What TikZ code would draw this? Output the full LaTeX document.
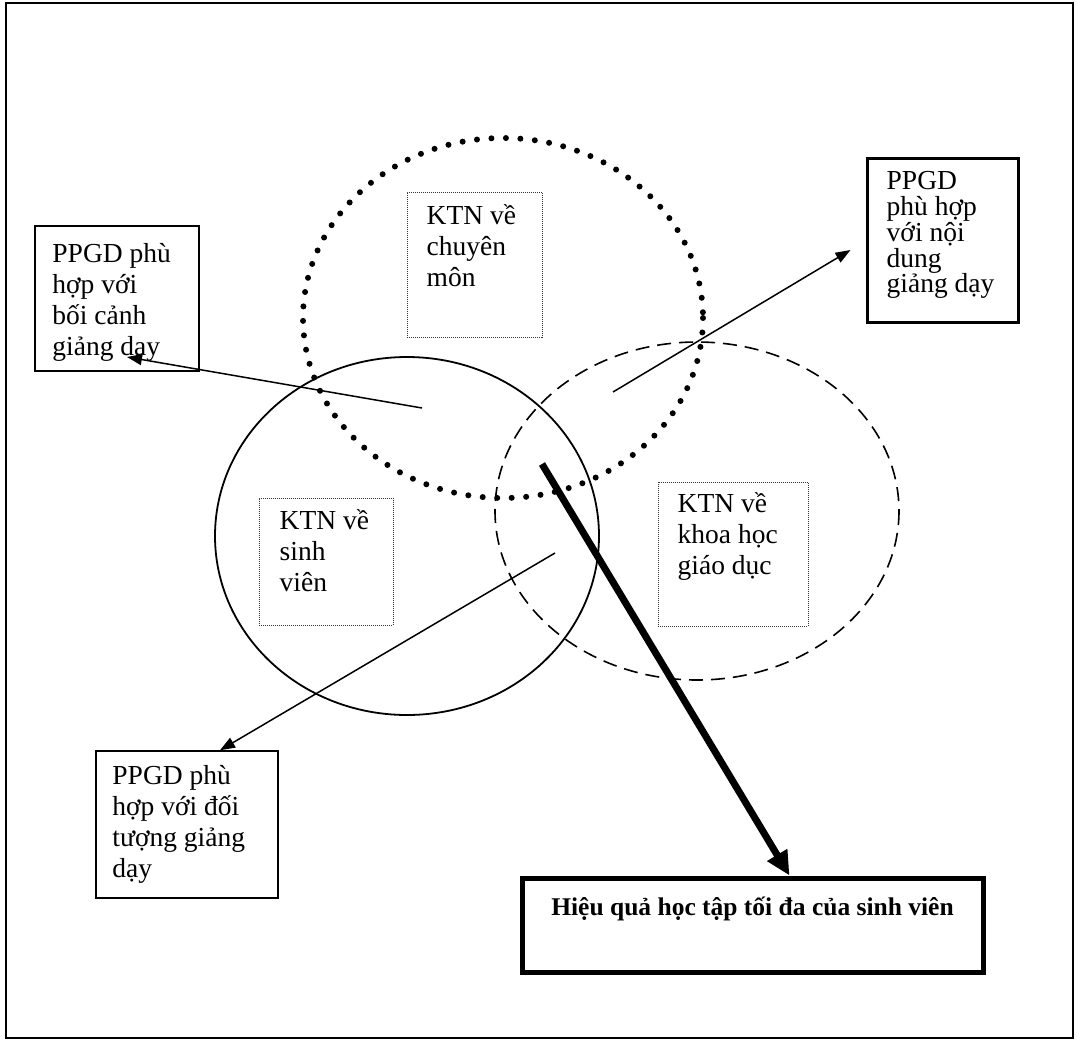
\documentclass[tikz,border=0pt]{standalone}
\usepackage{fontspec}
\setmainfont{Liberation Serif}
\usetikzlibrary{positioning,arrows.meta}

\tikzset{
  kbox/.style={draw=black!80, densely dotted, line width=1pt, inner sep=0pt},
  pbox/.style={draw, line width=1.5pt, inner sep=0pt},
  ktxt/.style={inner sep=0pt, align=left, font=\fontsize{27.5}{31}\selectfont},
  thinarrow/.style={line width=1.5pt, -{Triangle[length=15pt,width=11pt]}},
}

\begin{document}
\begin{tikzpicture}[x=1pt,y=-1pt]
        \useasboundingbox (0,0) rectangle (1077,1042);
        % Draw the outer frame
        \draw[line width=1.5pt] (6,3) rectangle (1073,1038);

        % Draw the three knowledge circles
        \draw[line width=6pt, line cap=round, dash pattern=on 0pt off 14.5pt] (503,318) ellipse [x radius=200, y radius=180];
        \draw[line width=1.8pt] (407,536) ellipse [x radius=192, y radius=179];
        \draw[line width=1.6pt, dash pattern=on 14pt off 8pt] (697,511) ellipse [x radius=202, y radius=169];

        % Draw the knowledge boxes inside the circles
        \node[kbox, minimum width=135pt, minimum height=145pt] (cm) at (474.5,264.5) {};
        \node[ktxt, below right=13pt and 20pt of cm.north west] (cmtxt) {KTN về\\chuyên\\môn};
        \node[kbox, minimum width=134pt, minimum height=127pt] (sv) at (326,561.5) {};
        \node[ktxt, below right=12pt and 21pt of sv.north west] (svtxt) {KTN về\\sinh\\viên};
        \node[kbox, minimum width=150pt, minimum height=144pt] (kh) at (733,554) {};
        \node[ktxt, below right=11pt and 20pt of kh.north west] (khtxt) {KTN về\\khoa học\\giáo dục};

        % Draw the method boxes
        \node[pbox, minimum width=164pt, minimum height=145pt] (ctx) at (117,298.5) {};
        \node[ktxt, below right=18pt and 18pt of ctx.north west] (ctxtxt) {PPGD phù\\hợp với\\bối cảnh\\giảng dạy};
        \node[pbox, line width=3pt, minimum width=151pt, minimum height=164pt] (nd) at (942.5,240) {};
        \node[ktxt, font=\fontsize{27.5}{25.7}\selectfont, below right=15pt and 21pt of nd.north west] (ndtxt) {PPGD\\phù hợp\\với nội\\dung\\giảng dạy};
        \node[pbox, minimum width=182pt, minimum height=147pt] (dt) at (187,824.5) {};
        \node[ktxt, below right=15pt and 17pt of dt.north west] (dttxt) {PPGD phù\\hợp với đối\\tượng giảng\\dạy};

        % Draw the result box
        \node[pbox, line width=5pt, minimum width=461pt, minimum height=94pt] (res) at (752.5,925) {};
        \node[inner sep=0pt, font=\fontsize{25.5}{30}\selectfont\bfseries, below=21pt of res.north] (restxt) {Hiệu quả học tập tối đa của sinh viên};

        % Draw the arrows from the circles to the boxes
        \coordinate (s1) at (422,408);
        \coordinate (t1) at (127,357);
        \draw[thinarrow] (s1) -- (t1);
        \coordinate (s2) at (613,392);
        \coordinate (t2) at ([xshift=-15pt, yshift=-10pt]nd.west);
        \draw[thinarrow] (s2) -- (t2);
        \coordinate (s3) at (555,553);
        \coordinate (t3) at ([xshift=33pt]dt.north);
        \draw[thinarrow] (s3) -- (t3);
        \coordinate (s4) at (542,464);
        \coordinate (t4) at ([xshift=37pt]res.north);
        \draw[line width=7pt, -{Triangle[length=24pt,width=22pt]}] (s4) -- (t4);
    \end{tikzpicture}
\end{document}
